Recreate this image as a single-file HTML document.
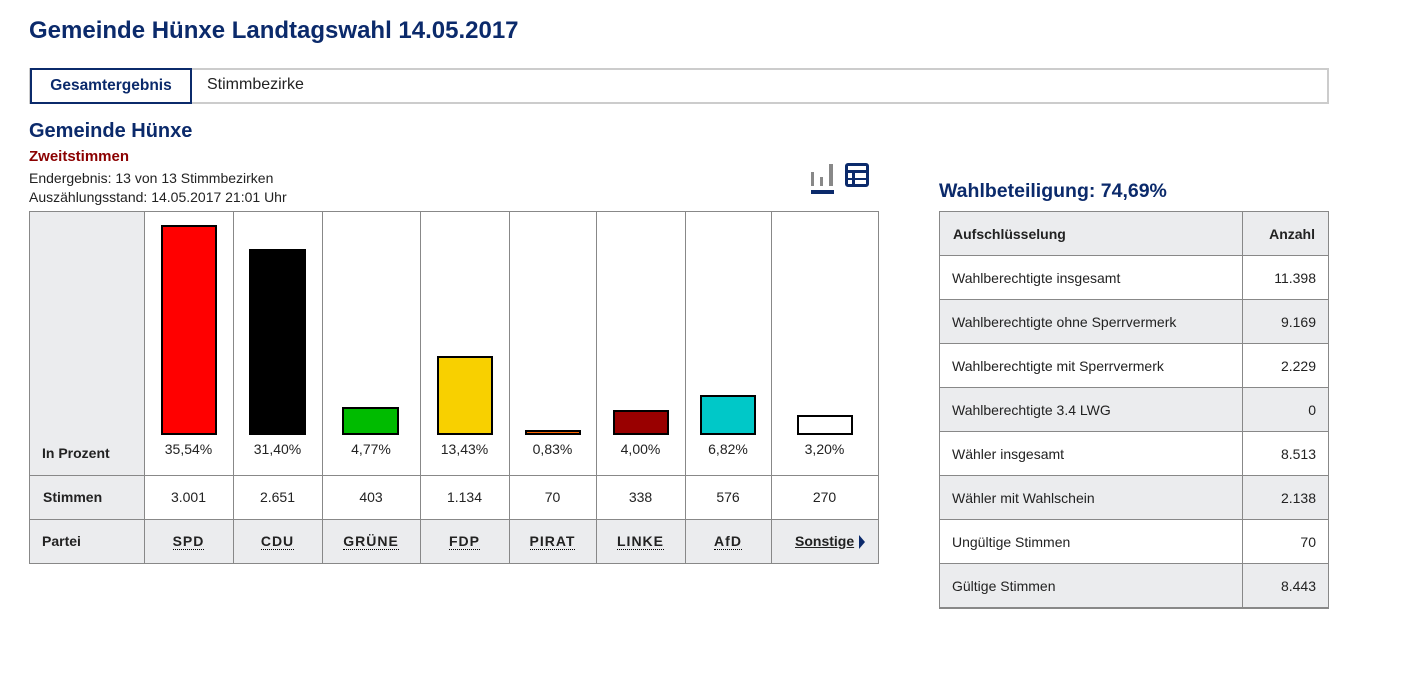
<!DOCTYPE html>
<html><head><meta charset="utf-8"><style>
*{margin:0;padding:0;box-sizing:border-box}
body{width:1409px;height:689px;background:#fff;font-family:"Liberation Sans",sans-serif;position:relative;overflow:hidden;color:#222}
.a{position:absolute;white-space:nowrap}
.v{position:absolute;background:#888;width:1px}
.h{position:absolute;background:#888;height:1px}
.bar{position:absolute;border:2px solid #000}
.pc{position:absolute;font-size:14px;text-align:center;top:441px}
.st{position:absolute;font-size:14px;text-align:center;top:489px}
.pt{position:absolute;font-size:14px;font-weight:bold;text-align:center;top:533px;letter-spacing:1px}
.pt span{border-bottom:1px dotted #000}
.r{position:absolute;left:939px;width:390px;height:44px;border-bottom:1px solid #888;font-size:14px}
.r .l{position:absolute;left:13px;top:14px}
.r .n{position:absolute;right:13px;top:14px}
</style></head><body>
<div class="a" style="left:29px;top:17px;font-size:24px;font-weight:bold;color:#0b2a6b">Gemeinde Hünxe Landtagswahl 14.05.2017</div>
<div class="a" style="left:29px;top:68px;width:1300px;height:36px;border:2px solid #ccc"></div>
<div class="a" style="left:30px;top:68px;width:162px;height:36px;border:2px solid #0b2a6b;font-size:15.5px;font-weight:bold;color:#0b2a6b;text-align:center;line-height:32px">Gesamtergebnis</div>
<div class="a" style="left:207px;top:76px;font-size:16px">Stimmbezirke</div>
<div class="a" style="left:29px;top:120px;font-size:20px;font-weight:bold;color:#0b2a6b">Gemeinde Hünxe</div>
<div class="a" style="left:29px;top:148px;font-size:15px;font-weight:bold;color:#8b0000">Zweitstimmen</div>
<div class="a" style="left:29px;top:170px;font-size:14px">Endergebnis: 13 von 13 Stimmbezirken</div>
<div class="a" style="left:29px;top:189px;font-size:14px">Auszählungsstand: 14.05.2017 21:01 Uhr</div>
<!-- icons -->
<div class="a" style="left:811px;top:172px;width:3px;height:14px;background:#888"></div>
<div class="a" style="left:820px;top:177px;width:3px;height:9px;background:#888"></div>
<div class="a" style="left:829px;top:164px;width:4px;height:22px;background:#888"></div>
<div class="a" style="left:811px;top:190px;width:23px;height:4px;background:#0b2a6b"></div>
<div class="a" style="left:845px;top:163px;width:24px;height:24px;border:3px solid #0b2a6b;border-radius:3px"></div>
<div class="a" style="left:845px;top:170px;width:24px;height:3px;background:#0b2a6b"></div>
<div class="a" style="left:852px;top:170px;width:3px;height:16px;background:#0b2a6b"></div>
<div class="a" style="left:848px;top:178px;width:19px;height:2px;background:#0b2a6b"></div>
<!-- chart table -->
<div class="a" style="left:29px;top:211px;width:850px;height:353px;border:1px solid #888"></div>
<div class="a" style="left:30px;top:212px;width:114px;height:351px;background:#ebecee"></div>
<div class="a" style="left:30px;top:520px;width:848px;height:43px;background:#ebecee"></div>
<div class="h" style="left:29px;top:475px;width:850px"></div>
<div class="h" style="left:29px;top:519px;width:850px"></div>
<div class="v" style="left:144px;top:211px;height:353px"></div>
<div class="v" style="left:233px;top:211px;height:353px"></div>
<div class="v" style="left:322px;top:211px;height:353px"></div>
<div class="v" style="left:420px;top:211px;height:353px"></div>
<div class="v" style="left:509px;top:211px;height:353px"></div>
<div class="v" style="left:596px;top:211px;height:353px"></div>
<div class="v" style="left:685px;top:211px;height:353px"></div>
<div class="v" style="left:771px;top:211px;height:353px"></div>
<div class="a" style="left:42px;top:445px;font-size:14px;font-weight:bold">In Prozent</div>
<div class="a" style="left:43px;top:489px;font-size:14px;font-weight:bold">Stimmen</div>
<div class="a" style="left:42px;top:533px;font-size:14px;font-weight:bold">Partei</div>
<div class="bar" style="left:161px;top:225px;width:56px;height:210px;background:#f00"></div>
<div class="bar" style="left:249px;top:249px;width:57px;height:186px;background:#000"></div>
<div class="bar" style="left:342px;top:407px;width:57px;height:28px;background:#00bb00"></div>
<div class="bar" style="left:437px;top:356px;width:56px;height:79px;background:#f8d000"></div>
<div class="bar" style="left:525px;top:430px;width:56px;height:5px;background:#f60"></div>
<div class="bar" style="left:613px;top:410px;width:56px;height:25px;background:#900"></div>
<div class="bar" style="left:700px;top:395px;width:56px;height:40px;background:#00c8c8"></div>
<div class="bar" style="left:797px;top:415px;width:56px;height:20px;background:#fff"></div>
<div class="pc" style="left:144px;width:89px">35,54%</div>
<div class="pc" style="left:233px;width:89px">31,40%</div>
<div class="pc" style="left:322px;width:98px">4,77%</div>
<div class="pc" style="left:420px;width:89px">13,43%</div>
<div class="pc" style="left:509px;width:87px">0,83%</div>
<div class="pc" style="left:596px;width:89px">4,00%</div>
<div class="pc" style="left:685px;width:86px">6,82%</div>
<div class="pc" style="left:771px;width:107px">3,20%</div>
<div class="st" style="left:144px;width:89px">3.001</div>
<div class="st" style="left:233px;width:89px">2.651</div>
<div class="st" style="left:322px;width:98px">403</div>
<div class="st" style="left:420px;width:89px">1.134</div>
<div class="st" style="left:509px;width:87px">70</div>
<div class="st" style="left:596px;width:89px">338</div>
<div class="st" style="left:685px;width:86px">576</div>
<div class="st" style="left:771px;width:107px">270</div>
<div class="pt" style="left:144px;width:89px"><span>SPD</span></div>
<div class="pt" style="left:233px;width:89px"><span>CDU</span></div>
<div class="pt" style="left:322px;width:98px"><span>GRÜNE</span></div>
<div class="pt" style="left:420px;width:89px"><span>FDP</span></div>
<div class="pt" style="left:509px;width:87px"><span>PIRAT</span></div>
<div class="pt" style="left:596px;width:89px"><span>LINKE</span></div>
<div class="pt" style="left:685px;width:86px"><span>AfD</span></div>
<div class="a" style="left:795px;top:533px;font-size:14px;font-weight:bold;text-decoration:underline">Sonstige</div>
<div class="a" style="left:859px;top:535px;width:0;height:0;border-left:6px solid #0b2a6b;border-top:7px solid transparent;border-bottom:7px solid transparent"></div>
<!-- right -->
<div class="a" style="left:939px;top:180px;font-size:19.5px;font-weight:bold;color:#0b2a6b">Wahlbeteiligung: 74,69%</div>
<div class="a" style="left:939px;top:211px;width:390px;height:398px;border:1px solid #888;border-top:2px solid #888"></div>
<div class="r" style="top:212px;background:#ebecee;border-left:1px solid #888;border-right:1px solid #888"><span class="l" style="font-weight:bold">Aufschlüsselung</span><span class="n" style="font-weight:bold">Anzahl</span></div>
<div class="r" style="top:256px"><span class="l">Wahlberechtigte insgesamt</span><span class="n">11.398</span></div>
<div class="r" style="top:300px;background:#ebecee"><span class="l">Wahlberechtigte ohne Sperrvermerk</span><span class="n">9.169</span></div>
<div class="r" style="top:344px"><span class="l">Wahlberechtigte mit Sperrvermerk</span><span class="n">2.229</span></div>
<div class="r" style="top:388px;background:#ebecee"><span class="l">Wahlberechtigte 3.4 LWG</span><span class="n">0</span></div>
<div class="r" style="top:432px"><span class="l">Wähler insgesamt</span><span class="n">8.513</span></div>
<div class="r" style="top:476px;background:#ebecee"><span class="l">Wähler mit Wahlschein</span><span class="n">2.138</span></div>
<div class="r" style="top:520px"><span class="l">Ungültige Stimmen</span><span class="n">70</span></div>
<div class="r" style="top:564px;background:#ebecee"><span class="l">Gültige Stimmen</span><span class="n">8.443</span></div>
<div class="a" style="left:939px;top:211px;width:390px;height:398px;border:1px solid #888"></div>
<div class="v" style="left:1242px;top:212px;height:396px"></div>
</body></html>
